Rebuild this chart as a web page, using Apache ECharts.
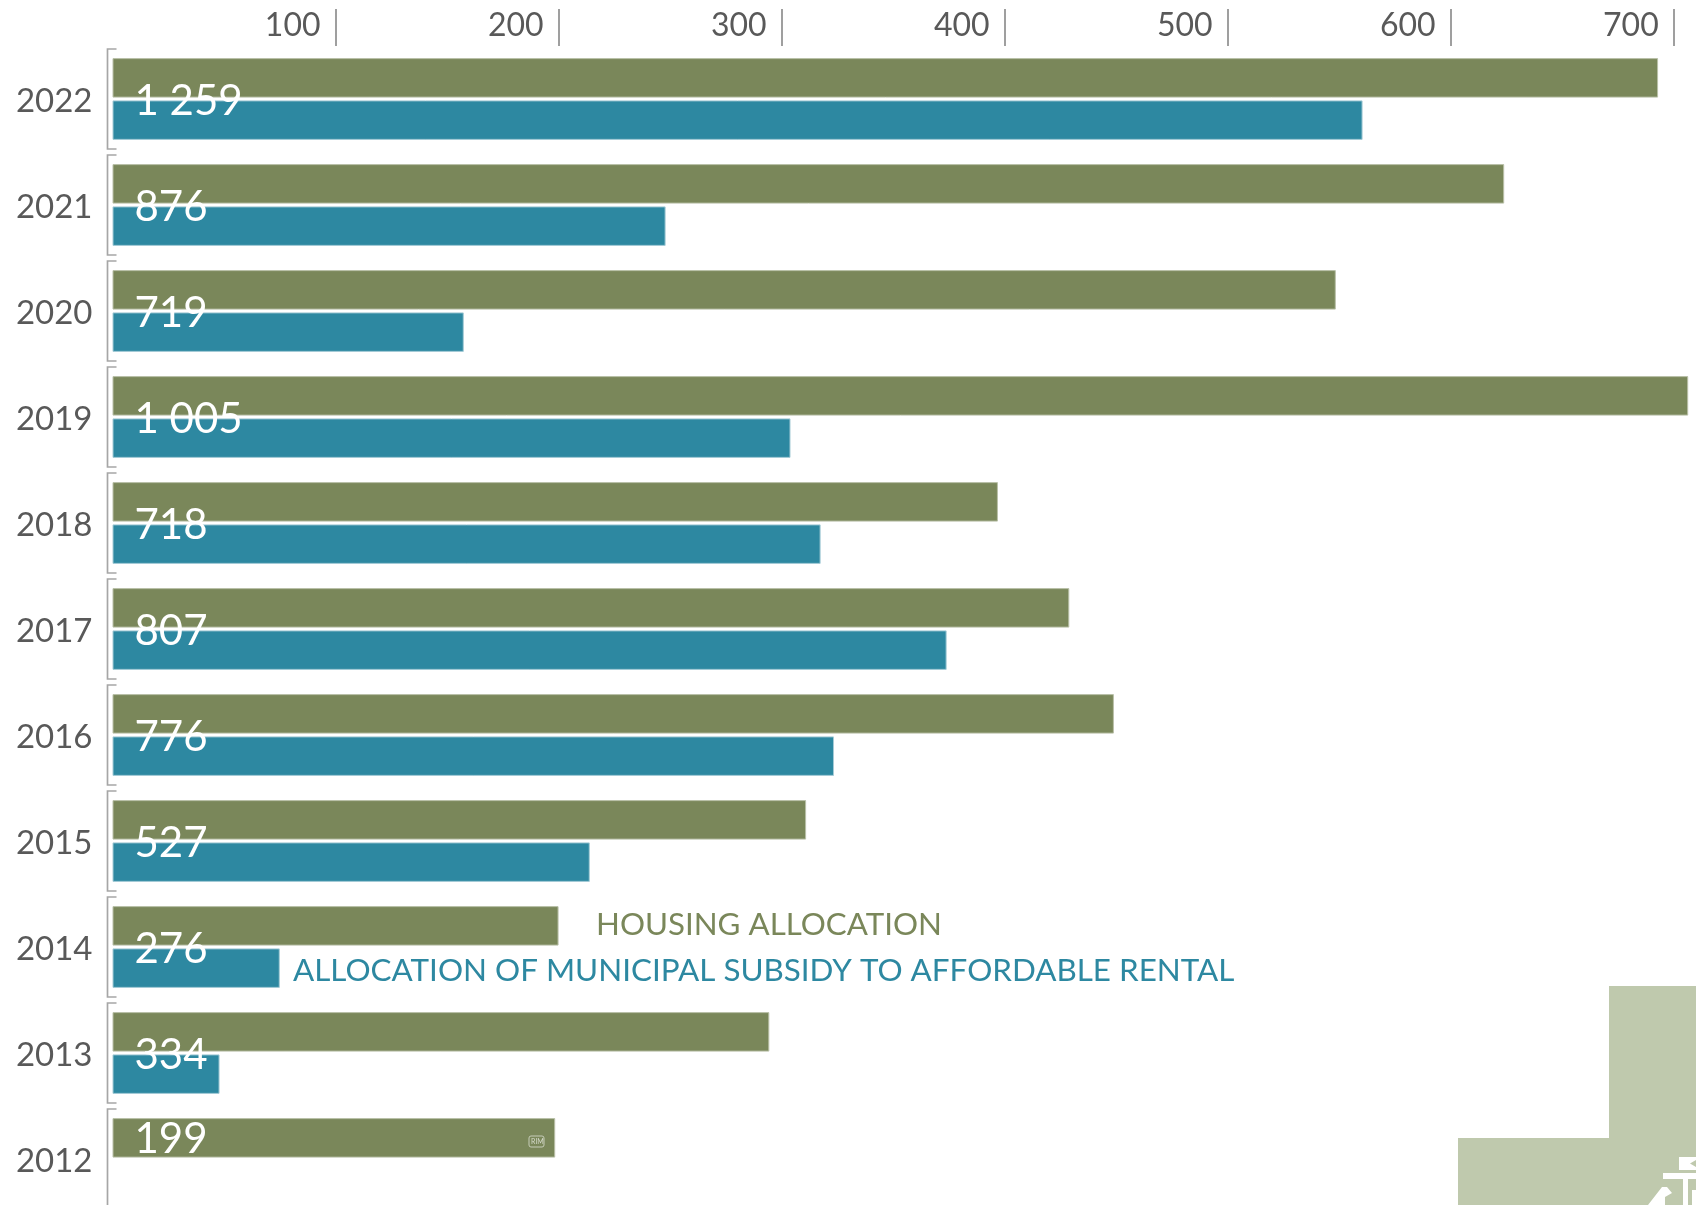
<!DOCTYPE html>
<html><head><meta charset="utf-8">
<style>html,body{margin:0;padding:0;background:#fff}#c{width:1696px;height:1205px}</style>
<script src="https://cdn.jsdelivr.net/npm/echarts@6/dist/echarts.min.js"></script>
</head><body><div id="c"></div>
<script>
const years = ['2012','2013','2014','2015','2016','2017','2018','2019','2020','2021','2022'];
const housing = [198.5,294.5,200,311,449,429,397,706.5,548.5,624,693];
const municipal = [null,48,75,214,323.5,374,317.5,304,157.5,248,560.5];
const totals = ['199','334','276','527','776','807','718','1 005','719','876','1 259'];
const ticks = [100,200,300,400,500,600,700];
const FONT = 'Lato';
const green = '#7A875A', teal = '#2D88A1';
const chart = echarts.init(document.getElementById('c'));
chart.setOption({
  animation:false,
  backgroundColor:'#fff',
  grid:{left:112.5,top:46,width:1583.5,height:1166,containLabel:false,outerBoundsMode:'none'},
  xAxis:{type:'value',position:'top',min:0,max:710,
    splitLine:{show:false},axisLine:{show:false},
    axisTick:{show:true,length:37,customValues:ticks,lineStyle:{color:'#808080',width:1.5}},
    axisLabel:{customValues:ticks,align:'right',padding:[0,15,0,0],margin:4,fontFamily:FONT,fontSize:32,color:'#595959'}},
  yAxis:{type:'category',data:years,axisLine:{show:false},axisTick:{show:false},
    axisLabel:{margin:20,fontFamily:FONT,fontSize:33,color:'#595959',
      formatter:v=>'{y|'+v+'}',
      rich:{y:{fontFamily:FONT,fontSize:33,color:'#595959',padding:[4,0,0,0]}}}},
  series:[
    {name:'Housing allocation',type:'bar',data:housing.map((v,i)=>({value:v,label:{offset:i===0?[22,2]:[22,23.5]}})),
     barWidth:39.5,barGap:'7%',z:3,
     itemStyle:{color:green,borderColor:'#B9C0A8',borderWidth:1},
     label:{show:true,position:'insideLeft',distance:0,fontFamily:FONT,fontSize:42,color:'#fff',
       formatter:p=>totals[p.dataIndex]}},
    {name:'Allocation of municipal subsidy',type:'bar',data:municipal,barWidth:39.5,barGap:'7%',z:2,
     itemStyle:{color:teal,borderColor:'#A5CBD6',borderWidth:1}},
    {type:'custom',coordinateSystem:'cartesian2d',clip:false,silent:true,
     data:years.map((y,i)=>[0,i]),encode:{x:0,y:1},z:1,
     renderItem:(params,api)=>{
       const c=api.coord([0,api.value(1)]), h=api.size([0,1])[1];
       const x=c[0]-5, t=c[1]-h/2+3, b=c[1]+h/2-3;
       return {type:'polyline',shape:{points:[[x+9,t],[x,t],[x,b],[x+9,b]]},
         style:{fill:null,stroke:'#A6A6A6',lineWidth:1.7}};
     }}
  ],
  graphic:[
    {type:'text',left:596,top:909,silent:true,style:{text:'HOUSING ALLOCATION',fontFamily:FONT,fontSize:31.3,fill:green}},
    {type:'text',left:293,top:955,silent:true,style:{text:'ALLOCATION OF MUNICIPAL SUBSIDY TO AFFORDABLE RENTAL',fontFamily:FONT,fontSize:31.4,fill:teal}},
    {type:'polygon',silent:true,z:0,shape:{points:[[1609,986],[1696,986],[1696,1205],[1458,1205],[1458,1138],[1609,1138]]},style:{fill:'#BFC9AD'}},
    {type:'polygon',silent:true,z:1,shape:{points:[[1679,1157],[1696,1157],[1696,1160],[1690,1163.5],[1696,1167],[1696,1170],[1679,1170]]},style:{fill:'#fff'}},
    {type:'rect',silent:true,z:1,shape:{x:1663,y:1173,width:33,height:6},style:{fill:'#fff'}},
    {type:'rect',silent:true,z:1,shape:{x:1683,y:1179,width:5,height:26},style:{fill:'#fff'}},
    {type:'rect',silent:true,z:1,shape:{x:1692,y:1190,width:4,height:15},style:{fill:'#fff'}},
    {type:'polygon',silent:true,z:1,shape:{points:[[1648,1205],[1662,1187],[1667,1187],[1672,1193],[1665,1197],[1665,1205]]},style:{fill:'#fff'}},
    {type:'rect',silent:true,z:10,shape:{x:529,y:1136,width:15,height:11,r:2},style:{fill:null,stroke:'#C6CCB8',lineWidth:1}},
    {type:'text',silent:true,z:10,left:531,top:1138,style:{text:'RIM',fontFamily:FONT,fontSize:7,fill:'#D5DACA'}}
  ]
});
</script></body></html>
